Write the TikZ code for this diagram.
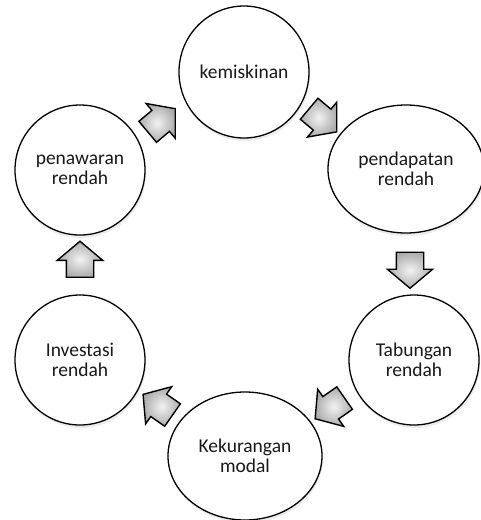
\documentclass[tikz,border=0pt]{standalone}
\usepackage{fontspec}
\setmainfont{Carlito}
\usetikzlibrary{shapes.geometric,shapes.arrows,shadows,calc}

\tikzset{
  stage/.style={draw, ellipse, line width=1.3pt, fill=white, align=center,
    inner sep=0pt, text=black!90, font=\fontsize{19.5}{20}\selectfont,
    drop shadow={shadow xshift=1pt, shadow yshift=-3pt, fill=black!15, opacity=0.5}},
  flow/.style={single arrow, draw, line width=1.4pt, inner color=gray!10,
    outer color=gray!65, minimum height=36pt, text height=13pt, text depth=13pt,
    single arrow head extend=9pt, single arrow tip angle=100, inner sep=0pt}
}

\begin{document}
\begin{tikzpicture}[x=1pt, y=-1pt]
				\useasboundingbox (0, 0) rectangle (481, 520);

				\node (Kemiskinan) [stage, minimum width=130pt, minimum height=132pt] at (244, 72) {kemiskinan};
				\node (Pendapatan) [stage, minimum width=156pt, minimum height=128pt] at (406, 169) {pendapatan\\rendah};
				\node (Tabungan) [stage, minimum size=130pt] at (414, 360) {Tabungan\\rendah};
				\node (Kekurangan) [stage, minimum width=154pt, minimum height=128pt] at (245, 456) {Kekurangan\\modal};
				\node (Investasi) [stage, minimum size=130pt] at (80, 360) {Investasi\\rendah};
				\node (Penawaran) [stage, minimum size=130pt] at (80, 170) {penawaran\\rendah};

				\node (ArrowA) [flow, rotate=-40] at ($(Kemiskinan)!0.46!(Pendapatan)$) {};
				\node (ArrowB) [flow, rotate=-90] at ($(Pendapatan)!0.5!(Tabungan)$) {};
				\node (ArrowC) [flow, rotate=-145] at ($(Tabungan)!0.47!(Kekurangan)$) {};
				\node (ArrowD) [flow, rotate=145] at ($(Kekurangan)!0.5!(Investasi)$) {};
				\node (ArrowE) [flow, rotate=90] at ($(Investasi)!0.5!(Penawaran)$) {};
				\node (ArrowF) [flow, rotate=40] at ($(Penawaran)!0.47!(Kemiskinan)$) {};
			\end{tikzpicture}
\end{document}
